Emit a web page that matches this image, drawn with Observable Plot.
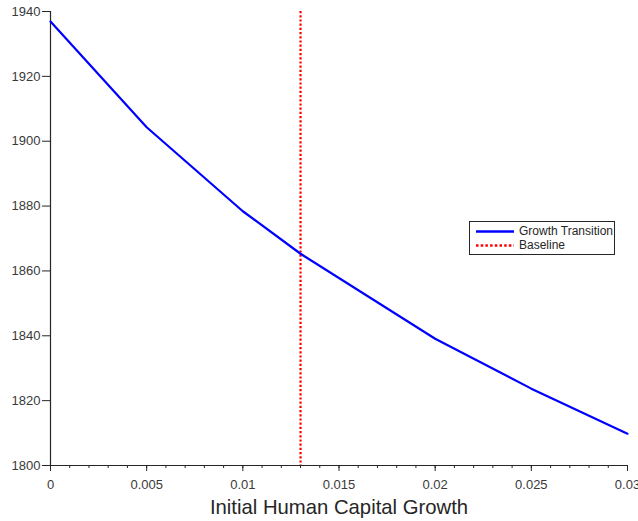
<!DOCTYPE html>
<html>
<head>
<meta charset="utf-8">
<script src="https://cdn.jsdelivr.net/npm/d3@7"></script>
<script src="https://cdn.jsdelivr.net/npm/@observablehq/plot@0.6"></script>
<style>
  html, body { margin: 0; padding: 0; background: #fff; overflow: hidden; }
  #wrap { position: relative; width: 638px; height: 521px; font-family: "Liberation Sans", Arial, sans-serif; }
  #legend { position: absolute; left: 469px; top: 221px; width: 146px; height: 34px; border: 1px solid #262626; background: #fff; box-sizing: border-box; font-size: 12px; color: #262626; }
  .row { position: absolute; left: 6px; height: 15px; line-height: 15px; white-space: nowrap; }
  .row svg { position: absolute; left: 0; top: 0; }
  .row span { position: absolute; left: 43px; top: 0; }
</style>
</head>
<body>
<div id="wrap"></div>
<script>
// Data
const growth = [0, 0.005, 0.01, 0.013, 0.02, 0.025, 0.03];
const transitionYear = [1936.9, 1904.3, 1878.4, 1865.3, 1839.1, 1823.7, 1809.8];
const baselineGrowth = 0.013;
const xTicks = [0, 0.005, 0.01, 0.015, 0.02, 0.025, 0.03];
const xTickLabels = ["0", "0.005", "0.01", "0.015", "0.02", "0.025", "0.03"];
const xMinorTicks = d3.range(0, 31).map(i => i / 1000);
const yTicks = [1800, 1820, 1840, 1860, 1880, 1900, 1920, 1940];
const seriesNames = ["Growth Transition", "Baseline"];

const data = growth.map((g, i) => ({g, y: transitionYear[i]}));
const ink = "#262626";
const textInk = "#3a3a3a";

const chart = Plot.plot({
  width: 638,
  height: 521,
  marginLeft: 50,
  marginRight: 11,
  marginTop: 11,
  marginBottom: 56,
  style: {fontFamily: "'Liberation Sans', Arial, sans-serif", fontSize: "13px", color: ink, background: "#fff", overflow: "visible"},
  x: {domain: [0, 0.03]},
  y: {domain: [1800, 1940]},
  marks: [
    Plot.axisX({ticks: xMinorTicks, tickSize: 3, text: null, stroke: ink, label: null}),
    Plot.axisX({ticks: xTicks, tickSize: 6, tickPadding: 8, stroke: ink, fill: textInk,
      tickFormat: d => xTickLabels[xTicks.indexOf(d)] ?? String(d), fontSize: 13,
      label: "Initial Human Capital Growth", labelAnchor: "center", labelArrow: "none", labelOffset: 48}),
    Plot.axisY({ticks: yTicks, tickSize: 8, tickPadding: 2, stroke: ink, fill: textInk, tickFormat: d => String(d), fontSize: 13, label: null}),
    Plot.ruleY([1800], {stroke: ink, strokeWidth: 1.2}),
    Plot.ruleX([0], {stroke: ink, strokeWidth: 1.2}),
    Plot.ruleX([baselineGrowth], {stroke: "#ff0000", strokeWidth: 2.2, strokeDasharray: "2.2,2"}),
    Plot.line(data, {x: "g", y: "y", stroke: "#0000ff", strokeWidth: 2.2})
  ]
});
const wrap = document.getElementById("wrap");
wrap.appendChild(chart);
chart.querySelectorAll("g[aria-label='x-axis label'] text").forEach(t => { t.setAttribute("font-size", "20.3"); t.setAttribute("fill", ink); });

const legend = document.createElement("div");
legend.id = "legend";
legend.innerHTML = `
  <div class="row" style="top:2px"><svg width="40" height="15"><line x1="0" x2="38" y1="7.5" y2="7.5" stroke="#0000ff" stroke-width="2.5"/></svg><span>${seriesNames[0]}</span></div>
  <div class="row" style="top:16px"><svg width="40" height="15"><line x1="0" x2="38" y1="7.5" y2="7.5" stroke="#ff0000" stroke-width="2.5" stroke-dasharray="2.5,2.2"/></svg><span>${seriesNames[1]}</span></div>`;
wrap.appendChild(legend);
</script>
</body>
</html>
